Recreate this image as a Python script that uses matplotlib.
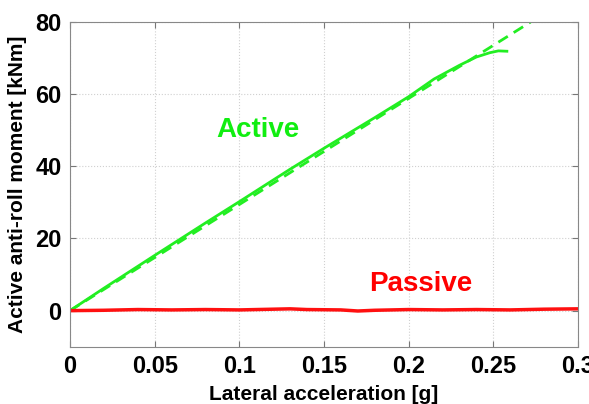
import matplotlib
matplotlib.use("Agg")

import matplotlib.pyplot as plt
import numpy as np

plt.rcParams['font.family'] = ['Liberation Sans', 'DejaVu Sans']
plt.rcParams['font.weight'] = 'bold'

# active moment (solid, measured)
active_x = [0.0, 0.02, 0.05, 0.08, 0.1, 0.13, 0.15, 0.18, 0.2, 0.215, 0.23, 0.24, 0.248, 0.253, 0.258]
active_y = [0.0, 6.2, 15.3, 24.3, 30.2, 39.2, 45.0, 53.5, 59.3, 64.2, 68.0, 70.3, 71.5, 72.0, 71.9]

# linear reference (dashed)
ref_x = [0.0, 0.272]
ref_y = [0.0, 80.0]

# passive moment
passive_x = [0.0, 0.02, 0.04, 0.06, 0.08, 0.1, 0.12, 0.13, 0.14, 0.16, 0.17, 0.18, 0.2, 0.22, 0.24, 0.26, 0.28, 0.3]
passive_y = [0.0, 0.1, 0.3, 0.2, 0.3, 0.2, 0.4, 0.5, 0.3, 0.2, -0.1, 0.1, 0.3, 0.2, 0.3, 0.2, 0.4, 0.5]

fig = plt.figure(figsize=(5.89, 4.04), dpi=100)
ax = fig.add_axes([0.1188, 0.1418, 0.8625, 0.8037])

ax.plot(ref_x, ref_y, color='#22ee22', lw=2, ls=(0, (4, 2.5)))
ax.plot(active_x, active_y, color='#22ee22', lw=2)
ax.plot(passive_x, passive_y, color='#ff1010', lw=2.5)

ax.text(0.111, 50, 'Active', color='#11ee11', fontsize=20, fontweight='bold', ha='center', va='center')
ax.text(0.207, 7.5, 'Passive', color='#ff0000', fontsize=20, fontweight='bold', ha='center', va='center')

ax.set_xlim(0, 0.3)
ax.set_ylim(-10, 80)
ax.set_xticks([0, 0.05, 0.1, 0.15, 0.2, 0.25, 0.3])
ax.set_xticklabels(['0', '0.05', '0.1', '0.15', '0.2', '0.25', '0.3'])
ax.set_yticks([0, 20, 40, 60, 80])
ax.grid(True, color='#d0d0d0', ls=':', lw=0.8)
ax.tick_params(direction='in', top=True, right=True, labelsize=17, color='#777777', length=4, pad=6)
for s in ax.spines.values():
    s.set_color('#888888')

ax.set_xlabel('Lateral acceleration [g]', fontsize=15, fontweight='bold', labelpad=5)
ax.set_ylabel('Active anti-roll moment [kNm]', fontsize=15, fontweight='bold', labelpad=6)

plt.savefig("out.png")
